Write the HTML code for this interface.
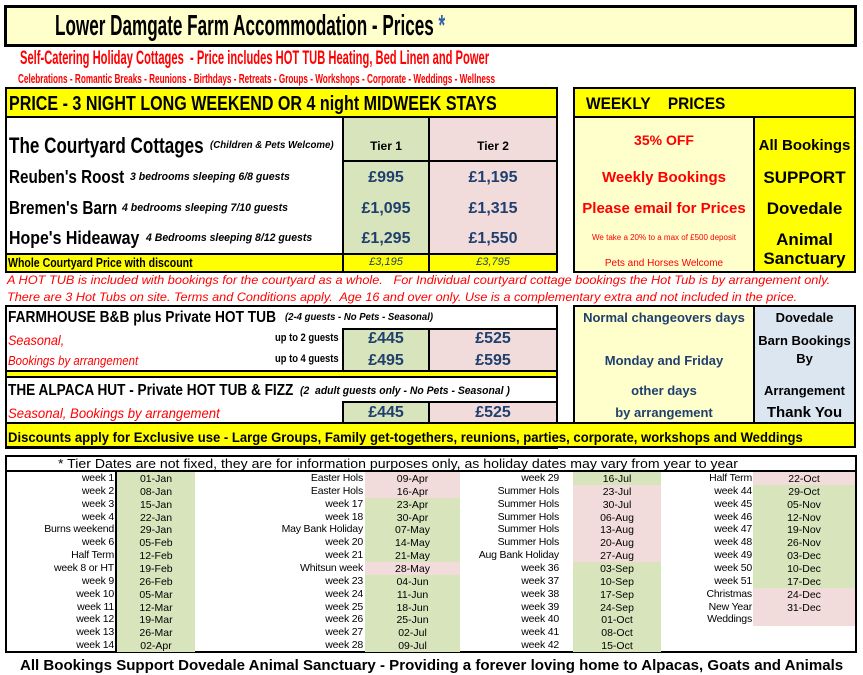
<!DOCTYPE html>
<html><head><meta charset="utf-8">
<style>
*{margin:0;padding:0;box-sizing:border-box}
body{width:863px;height:675px;background:#fff;position:relative;overflow:hidden;font-family:"Liberation Sans",sans-serif}
.a{position:absolute}
.t{position:absolute;white-space:nowrap;line-height:1;transform-origin:left center}
.b{font-weight:bold}
.i{font-style:italic}
.r{color:#f00}
.bl{color:#1f3f6e}
.c{position:absolute;white-space:nowrap;line-height:1;text-align:center;font-weight:bold}
.box{position:absolute;border:2px solid #000}
</style></head><body>
<!-- title -->
<div class="box" style="left:4px;top:5px;width:853px;height:42px;background:#ffffcc;border-width:3px"></div>
<div class="t b" data-w="390" style="left:55px;top:12px;font-size:29px">Lower Damgate Farm Accommodation - Prices <span style="color:#2f5fb0">*</span></div>
<div class="t b r" data-w="469" style="left:20px;top:49px;font-size:19px">Self-Catering Holiday Cottages&nbsp; - Price includes HOT TUB Heating, Bed Linen and Power</div>
<div class="t b r" data-w="477" style="left:18px;top:72px;font-size:13px">Celebrations - Romantic Breaks - Reunions - Birthdays - Retreats - Groups - Workshops - Corporate - Weddings - Wellness</div>

<!-- courtyard box -->
<div class="box" style="left:5px;top:87px;width:553px;height:186px"></div>
<div class="a" style="left:7px;top:89px;width:549px;height:29px;background:#ff0;border-bottom:2px solid #000"></div>
<div class="t b" data-w="488" style="left:9px;top:94px;font-size:20px">PRICE - 3 NIGHT LONG WEEKEND OR 4 night MIDWEEK STAYS</div>
<div class="a" style="left:342px;top:118px;width:88px;height:136px;background:#d8e4bc;border-left:2px solid #000;border-right:2px solid #000"></div>
<div class="a" style="left:430px;top:118px;width:126px;height:136px;background:#f2dcdb"></div>
<div class="a" style="left:342px;top:160px;width:214px;height:2px;background:#000"></div>
<div class="a" style="left:7px;top:253px;width:549px;height:18px;background:#ff0;border-top:2px solid #000"></div>
<div class="a" style="left:342px;top:253px;width:2px;height:19px;background:#000"></div>
<div class="a" style="left:428px;top:253px;width:2px;height:19px;background:#000"></div>
<div class="t b" data-w="195" style="left:9px;top:135px;font-size:22px">The Courtyard Cottages</div>
<div class="t b i" data-w="124" style="left:210px;top:141px;font-size:10px">(Children &amp; Pets Welcome)</div>
<div class="c" style="left:344px;width:84px;top:140px;font-size:12px">Tier 1</div>
<div class="c" style="left:430px;width:126px;top:140px;font-size:12px">Tier 2</div>
<div class="t b" data-w="115" style="left:9px;top:168px;font-size:18px">Reuben's Roost</div>
<div class="t b i" data-w="160" style="left:130px;top:172px;font-size:11px">3 bedrooms sleeping 6/8 guests</div>
<div class="t b" data-w="108" style="left:9px;top:199px;font-size:18px">Bremen's Barn</div>
<div class="t b i" data-w="166" style="left:122px;top:203px;font-size:11px">4 bedrooms sleeping 7/10 guests</div>
<div class="t b" data-w="130" style="left:9px;top:229px;font-size:18px">Hope's Hideaway</div>
<div class="t b i" data-w="166" style="left:146px;top:233px;font-size:11px">4 Bedrooms sleeping 8/12 guests</div>
<div class="c bl" style="left:344px;width:84px;top:170px;font-size:16px">£995</div>
<div class="c bl" style="left:430px;width:126px;top:170px;font-size:16px">£1,195</div>
<div class="c bl" style="left:344px;width:84px;top:201px;font-size:16px">£1,095</div>
<div class="c bl" style="left:430px;width:126px;top:201px;font-size:16px">£1,315</div>
<div class="c bl" style="left:344px;width:84px;top:231px;font-size:16px">£1,295</div>
<div class="c bl" style="left:430px;width:126px;top:231px;font-size:16px">£1,550</div>
<div class="t b" data-w="185" style="left:8px;top:256px;font-size:13px">Whole Courtyard Price with discount</div>
<div class="c bl i" style="left:344px;width:84px;top:257px;font-size:11px;font-weight:normal">£3,195</div>
<div class="c bl i" style="left:430px;width:126px;top:257px;font-size:11px;font-weight:normal">£3,795</div>
<div class="t i r" data-w="823" style="left:7px;top:274px;font-size:12px">A HOT TUB is included with bookings for the courtyard as a whole.&nbsp;&nbsp; For Individual courtyard cottage bookings the Hot Tub is by arrangement only.</div>
<div class="t i r" data-w="790" style="left:7px;top:291px;font-size:12px">There are 3 Hot Tubs on site. Terms and Conditions apply.&nbsp; Age 16 and over only. Use is a complementary extra and not included in the price.</div>

<!-- weekly box -->
<div class="box" style="left:573px;top:87px;width:283px;height:186px;background:#ffffcc"></div>
<div class="a" style="left:575px;top:89px;width:279px;height:29px;background:#ff0;border-bottom:2px solid #000"></div>
<div class="a" style="left:753px;top:118px;width:101px;height:153px;background:#ff0;border-left:2px solid #000"></div>
<div class="t b" data-w="139" style="left:586px;top:95px;font-size:17px">WEEKLY&nbsp;&nbsp;&nbsp; PRICES</div>
<div class="c r" style="left:575px;width:178px;top:133px;font-size:14px">35% OFF</div>
<div class="c r" style="left:575px;width:178px;top:170px;font-size:15px">Weekly Bookings</div>
<div class="c r" style="left:575px;width:178px;top:201px;font-size:15px">Please email for Prices</div>
<div class="c r" style="left:575px;width:178px;top:234px;font-size:8px;font-weight:normal">We take a 20% to a max of £500 deposit</div>
<div class="c r" style="left:575px;width:178px;top:259px;font-size:10px;font-weight:normal">Pets and Horses Welcome</div>
<div class="c" style="left:755px;width:99px;top:138px;font-size:15px">All Bookings</div>
<div class="c" style="left:755px;width:99px;top:169px;font-size:17px">SUPPORT</div>
<div class="c" style="left:755px;width:99px;top:200px;font-size:17px">Dovedale</div>
<div class="c" style="left:755px;width:99px;top:231px;font-size:17px">Animal</div>
<div class="c" style="left:755px;width:99px;top:250px;font-size:17px">Sanctuary</div>

<!-- farmhouse / alpaca -->
<div class="box" style="left:5px;top:305px;width:553px;height:144px"></div>
<div class="a" style="left:342px;top:328px;width:88px;height:43px;background:#d8e4bc;border:2px solid #000;border-bottom:none"></div>
<div class="a" style="left:430px;top:328px;width:126px;height:43px;background:#f2dcdb;border-top:2px solid #000"></div>
<div class="a" style="left:7px;top:370px;width:549px;height:8px;background:#ff0;border-top:2px solid #000;border-bottom:2px solid #000"></div>
<div class="a" style="left:342px;top:401px;width:88px;height:22px;background:#d8e4bc;border:2px solid #000;border-bottom:none"></div>
<div class="a" style="left:430px;top:401px;width:126px;height:22px;background:#f2dcdb;border-top:2px solid #000"></div>
<div class="a" style="left:5px;top:422px;width:851px;height:26px;background:#ff0;border:2px solid #000"></div>
<div class="t b" data-w="268" style="left:8px;top:310px;font-size:16px">FARMHOUSE B&amp;B plus Private HOT TUB</div>
<div class="t b i" data-w="148" style="left:285px;top:313px;font-size:10px">(2-4 guests - No Pets - Seasonal)</div>
<div class="t i r" data-w="56" style="left:8px;top:333px;font-size:14px">Seasonal,</div>
<div class="t i r" data-w="130" style="left:8px;top:354px;font-size:13px">Bookings by arrangement</div>
<div class="t b" data-w="64" style="left:275px;top:333px;font-size:11px">up to 2 guests</div>
<div class="t b" data-w="64" style="left:275px;top:354px;font-size:11px">up to 4 guests</div>
<div class="c bl" style="left:344px;width:84px;top:331px;font-size:16px">£445</div>
<div class="c bl" style="left:430px;width:126px;top:331px;font-size:16px">£525</div>
<div class="c bl" style="left:344px;width:84px;top:353px;font-size:16px">£495</div>
<div class="c bl" style="left:430px;width:126px;top:353px;font-size:16px">£595</div>
<div class="t b" data-w="285" style="left:8px;top:383px;font-size:16px">THE ALPACA HUT - Private HOT TUB &amp; FIZZ</div>
<div class="t b i" data-w="210" style="left:300px;top:386px;font-size:11px">(2&nbsp; adult guests only - No Pets - Seasonal )</div>
<div class="t i r" data-w="212" style="left:8px;top:406px;font-size:14px">Seasonal, Bookings by arrangement</div>
<div class="c bl" style="left:344px;width:84px;top:405px;font-size:16px">£445</div>
<div class="c bl" style="left:430px;width:126px;top:405px;font-size:16px">£525</div>
<div class="t b" data-w="795" style="left:8px;top:430px;font-size:14px">Discounts apply for Exclusive use - Large Groups, Family get-togethers, reunions, parties, corporate, workshops and Weddings</div>

<!-- changeover -->
<div class="box" style="left:573px;top:305px;width:283px;height:119px;background:#ffffcc"></div>
<div class="a" style="left:753px;top:307px;width:101px;height:115px;background:#dce6f1;border-left:2px solid #000"></div>
<div class="c bl" style="left:575px;width:178px;top:311px;font-size:13px">Normal changeovers days</div>
<div class="c bl" style="left:575px;width:178px;top:354px;font-size:13px">Monday and Friday</div>
<div class="c bl" style="left:575px;width:178px;top:384px;font-size:13px">other days</div>
<div class="c bl" style="left:575px;width:178px;top:406px;font-size:13px">by arrangement</div>
<div class="c" style="left:755px;width:99px;top:311px;font-size:13px">Dovedale</div>
<div class="c" style="left:755px;width:99px;top:334px;font-size:13px">Barn Bookings</div>
<div class="c" style="left:755px;width:99px;top:352px;font-size:13px">By</div>
<div class="c" style="left:755px;width:99px;top:384px;font-size:13px">Arrangement</div>
<div class="c" style="left:755px;width:99px;top:405px;font-size:15px">Thank You</div>

<!-- dates table -->
<div class="box" style="left:5px;top:455px;width:852px;height:198px"></div>
<div class="a" style="left:7px;top:470px;width:848px;height:2px;background:#000"></div>
<div class="a" style="left:115px;top:472px;width:2px;height:179px;background:#000"></div>
<div class="t" data-w="680" style="left:58px;top:457px;font-size:13px">* Tier Dates are not fixed, they are for information purposes only, as holiday dates may vary from year to year</div>
<div id="tbl"></div>

<div class="t b" data-w="823" style="left:20px;top:658px;font-size:15px">All Bookings Support Dovedale Animal Sanctuary - Providing a forever loving home to Alpacas, Goats and Animals</div>

<script>
const col1Labels=["week 1","week 2","week 3","week 4","Burns weekend","week 6","Half Term","week 8 or HT","week 9","week 10","week 11","week 12","week 13","week 14"];
const col1Dates=["01-Jan","08-Jan","15-Jan","22-Jan","29-Jan","05-Feb","12-Feb","19-Feb","26-Feb","05-Mar","12-Mar","19-Mar","26-Mar","02-Apr"];
const col1Tiers=["g","g","g","g","g","g","g","g","g","g","g","g","g","g"];
const col2Labels=["Easter Hols","Easter Hols","week 17","week 18","May Bank Holiday","week 20","week 21","Whitsun week","week 23","week 24","week 25","week 26","week 27","week 28"];
const col2Dates=["09-Apr","16-Apr","23-Apr","30-Apr","07-May","14-May","21-May","28-May","04-Jun","11-Jun","18-Jun","25-Jun","02-Jul","09-Jul"];
const col2Tiers=["p","p","g","g","g","g","g","p","g","g","g","g","g","g"];
const col3Labels=["week 29","Summer Hols","Summer Hols","Summer Hols","Summer Hols","Summer Hols","Aug Bank Holiday","week 36","week 37","week 38","week 39","week 40","week 41","week 42"];
const col3Dates=["16-Jul","23-Jul","30-Jul","06-Aug","13-Aug","20-Aug","27-Aug","03-Sep","10-Sep","17-Sep","24-Sep","01-Oct","08-Oct","15-Oct"];
const col3Tiers=["g","p","p","p","p","p","p","g","g","g","g","g","g","g"];
const col4Labels=["Half Term","week 44","week 45","week 46","week 47","week 48","week 49","week 50","week 51","Christmas","New Year","Weddings","",""];
const col4Dates=["22-Oct","29-Oct","05-Nov","12-Nov","19-Nov","26-Nov","03-Dec","10-Dec","17-Dec","24-Dec","31-Dec","","",""];
const col4Tiers=["p","g","g","g","g","g","g","g","g","p","p","p","",""];
const cols=[
 {labels:col1Labels,dates:col1Dates,tiers:col1Tiers,lr:114,bx:117,bw:78},
 {labels:col2Labels,dates:col2Dates,tiers:col2Tiers,lr:363,bx:365,bw:95},
 {labels:col3Labels,dates:col3Dates,tiers:col3Tiers,lr:559,bx:573,bw:88},
 {labels:col4Labels,dates:col4Dates,tiers:col4Tiers,lr:752,bx:753,bw:102}
];
const tbl=document.getElementById('tbl');
const rowTop=472, rowH=12.85;
cols.forEach((c,ci)=>{
 c.labels.forEach((lab,i)=>{
  const y=rowTop+i*rowH;
  if(c.tiers[i]){
   const bg=document.createElement('div');
   
   
   bg.className='a';
   bg.style.cssText=`left:${c.bx}px;top:${y}px;width:${c.bw}px;height:${rowH+0.3}px;background:${c.tiers[i]==='g'?'#d8e4bc':'#f2dcdb'}`;
   tbl.appendChild(bg);
  }
  if(lab){
   const l=document.createElement('div');
   
   
   l.className='a';
   l.style.cssText=`left:${c.lr-150}px;width:150px;text-align:right;top:${y+1}px;font-size:10.5px;line-height:11px;white-space:nowrap;letter-spacing:-0.2px`;
   l.textContent=lab;tbl.appendChild(l);
  }
  if(c.dates[i]){
   const d=document.createElement('div');
   
   
   d.className='a';
   d.style.cssText=`left:${c.bx}px;width:${c.bw}px;text-align:center;top:${y+2}px;font-size:10.5px;line-height:11px;white-space:nowrap`;
   d.textContent=c.dates[i];tbl.appendChild(d);
  }
 });
});
document.querySelectorAll('[data-w]').forEach(e=>{
 const w=+e.getAttribute('data-w');const a=e.scrollWidth;
 if(a>0)e.style.transform=`scaleX(${w/a})`;
});
</script>
</body></html>
